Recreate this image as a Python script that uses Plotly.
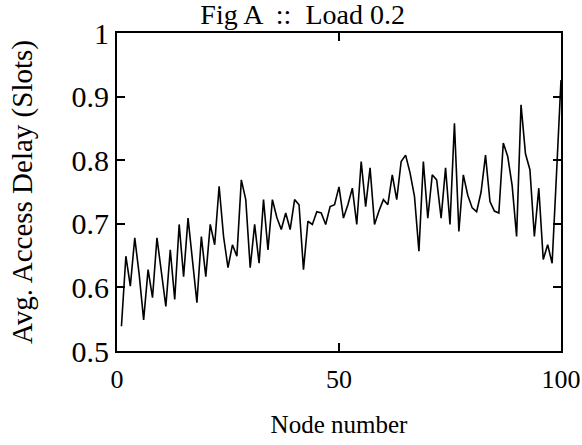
import plotly.graph_objects as go

# Average access delay per node at offered load 0.2
nodes = list(range(1, 101))
delay = [
    0.539, 0.649, 0.602, 0.678, 0.620, 0.549, 0.628, 0.584, 0.678, 0.620,
    0.570, 0.659, 0.581, 0.699, 0.617, 0.709, 0.640, 0.576, 0.680, 0.617,
    0.699, 0.667, 0.759, 0.680, 0.631, 0.667, 0.649, 0.769, 0.738, 0.631,
    0.699, 0.638, 0.738, 0.659, 0.738, 0.710, 0.691, 0.717, 0.691, 0.738,
    0.730, 0.628, 0.704, 0.699, 0.719, 0.717, 0.699, 0.727, 0.730, 0.758,
    0.709, 0.730, 0.756, 0.699, 0.798, 0.727, 0.788, 0.699, 0.720, 0.738,
    0.730, 0.777, 0.738, 0.798, 0.808, 0.780, 0.743, 0.657, 0.798, 0.709,
    0.777, 0.769, 0.709, 0.788, 0.699, 0.858, 0.688, 0.777, 0.745, 0.725,
    0.719, 0.750, 0.808, 0.735, 0.720, 0.717, 0.827, 0.806, 0.760, 0.680,
    0.887, 0.810, 0.785, 0.680, 0.756, 0.644, 0.667, 0.638, 0.780, 0.926,
]

x_ticks = [0, 50, 100]
y_ticks = [0.5, 0.6, 0.7, 0.8, 0.9, 1.0]
y_tick_text = ["0.5", "0.6", "0.7", "0.8", "0.9", "1"]

serif = "Liberation Serif, Times New Roman, serif"

fig = go.Figure()
fig.add_trace(go.Scatter(
    x=nodes, y=delay, mode="lines",
    line=dict(color="black", width=1.6),
    showlegend=False,
))

axis_common = dict(
    showline=True, linecolor="black", linewidth=1.8, mirror="allticks",
    ticks="inside", ticklen=8, tickwidth=1.5, tickcolor="black",
    showgrid=False, zeroline=False, automargin=False,
)

fig.update_layout(
    width=582, height=445,
    margin=dict(l=117, r=21, t=33, b=94),
    paper_bgcolor="white", plot_bgcolor="white",
    title=dict(
        text="Fig A  ::  Load 0.2",
        font=dict(family=serif, size=28, color="black"),
        x=0.52, xanchor="center", y=0.99, yanchor="top",
        automargin=False,
    ),
    xaxis=dict(
        range=[0, 100], tickvals=x_ticks,
        tickfont=dict(family=serif, size=26, color="black"),
        ticklabelstandoff=4,
        title=dict(text="Node number", font=dict(family=serif, size=25, color="black"), standoff=22),
        **axis_common,
    ),
    yaxis=dict(
        range=[0.5, 1.0], tickvals=y_ticks, ticktext=y_tick_text,
        tickfont=dict(family=serif, size=30, color="black"),
        title=dict(text="Avg. Access Delay (Slots)", font=dict(family=serif, size=29, color="black"), standoff=30),
        **axis_common,
    ),
)

fig.write_html("out.html")
